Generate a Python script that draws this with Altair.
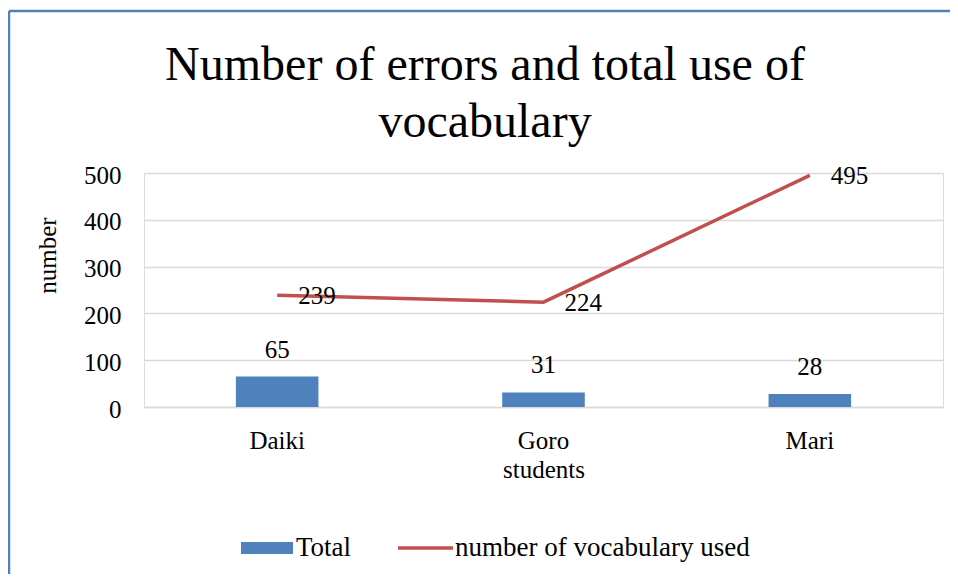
import altair as alt
import pandas as pd

students = ["Daiki", "Goro", "Mari"]
errors_total = [65, 31, 28]
vocab_used = [239, 224, 495]
legend_labels = ["Total", "number of vocabulary used"]
title_lines = ["Number of errors and total use of", "vocabulary"]
y_ticks = [0, 100, 200, 300, 400, 500]

FONT = "Liberation Serif"
BAR_COLOR = "#4F81BD"
LINE_COLOR = "#C0504D"
GRID = "#D9D9D9"
FS = 25

df = pd.DataFrame({"students": students, "Total": errors_total, "vocab": vocab_used})

W, H = 799, 234
PAD_L, PAD_T = 136, 165

y_axis = alt.Axis(
    title="number", values=y_ticks, grid=True, domain=False, ticks=False, tickSize=0,
    labelPadding=23, labelFontSize=FS, labelFont=FONT, labelColor="black",
    titleFont=FONT, titleFontSize=FS, titleFontWeight="normal", titleColor="black",
    titleX=-97, titleY=82, titleAlign="center", titleBaseline="middle",
    gridColor=GRID, gridWidth=1.5, labelOffset=2,
)
y_scale = alt.Scale(domain=[0, 500], nice=False)

base = alt.Chart(df).encode(
    x=alt.X(
        "students:N", sort=students,
        scale=alt.Scale(paddingInner=0.69, paddingOuter=0.345),
        axis=alt.Axis(
            title="students", labelAngle=0, ticks=False, tickSize=0,
            labelPadding=21.5, labelFontSize=FS, labelFont=FONT, labelColor="black",
            titleFont=FONT, titleFontSize=FS, titleFontWeight="normal", titleColor="black",
            titlePadding=3.5, domainColor=GRID, domainWidth=1.5, grid=False,
        ),
    )
)

bars = base.mark_bar(color=BAR_COLOR).encode(
    y=alt.Y("Total:Q", scale=y_scale, axis=y_axis)
)
bar_text = base.mark_text(
    baseline="alphabetic", dy=-19, fontSize=FS, font=FONT, color="black"
).encode(y=alt.Y("Total:Q", scale=y_scale, axis=y_axis), text="Total:Q")

line = base.mark_line(color=LINE_COLOR, strokeWidth=3.5).encode(
    y=alt.Y("vocab:Q", scale=y_scale, axis=y_axis)
)
line_text = base.mark_text(
    align="left", baseline="middle", dx=21, dy=1, fontSize=FS, font=FONT, color="black"
).encode(y=alt.Y("vocab:Q", scale=y_scale, axis=y_axis), text="vocab:Q")

# title (drawn as text so the frame does not push it off the page)
title_df = pd.DataFrame({"t": [0]})
title_text = alt.Chart(title_df).mark_text(
    align="center", baseline="alphabetic", fontSize=48, font=FONT, color="black",
    lineHeight=57,
).encode(x=alt.value(485 - 8 - PAD_L), y=alt.value(80 - 8 - PAD_T), text=alt.value(title_lines))

# manual legend
leg_bar_df = pd.DataFrame({"label": [legend_labels[0]]})
leg_line_df = pd.DataFrame({"label": [legend_labels[1]]})
LEG_Y = 548 - 8 - PAD_T
leg_rect = alt.Chart(leg_bar_df).mark_rect(color=BAR_COLOR).encode(
    x=alt.value(241 - 8 - PAD_L), x2=alt.value(293 - 8 - PAD_L),
    y=alt.value(LEG_Y - 6), y2=alt.value(LEG_Y + 6),
)
leg_rect_text = alt.Chart(leg_bar_df).mark_text(
    align="left", baseline="middle", fontSize=27, font=FONT, color="black"
).encode(x=alt.value(296 - 8 - PAD_L), y=alt.value(LEG_Y), text="label:N")
leg_line = alt.Chart(leg_line_df).mark_rule(color=LINE_COLOR, strokeWidth=3.5).encode(
    x=alt.value(398 - 8 - PAD_L), x2=alt.value(453 - 8 - PAD_L), y=alt.value(LEG_Y),
)
leg_line_text = alt.Chart(leg_line_df).mark_text(
    align="left", baseline="middle", fontSize=27, font=FONT, color="black"
).encode(x=alt.value(455 - 8 - PAD_L), y=alt.value(LEG_Y), text="label:N")

# chart frame (left and top edges visible)
BX = 9 - 8 - PAD_L
BY = 11 - 8 - PAD_T
border_left = alt.Chart(leg_bar_df).mark_rule(color="#4F81BD", strokeWidth=2.5).encode(
    x=alt.value(BX), y=alt.value(BY), y2=alt.value(H + 200)
)
border_top = alt.Chart(leg_bar_df).mark_rule(color="#4F81BD", strokeWidth=2.5).encode(
    x=alt.value(BX), x2=alt.value(W + 100), y=alt.value(BY)
)

chart = alt.layer(
    bars, bar_text, line, line_text, title_text,
    leg_rect, leg_rect_text, leg_line, leg_line_text,
    border_left, border_top,
).properties(
    width=W, height=H,
    autosize=alt.AutoSizeParams(type="none"),
    padding={"left": PAD_L, "top": PAD_T, "right": 7, "bottom": 167},
).configure_view(stroke=None).configure(
    background="white", font=FONT
).configure_text(font=FONT).configure_axis(labelFont=FONT, titleFont=FONT)

chart.save("out.html", embed_options={"renderer": "svg", "actions": False})
